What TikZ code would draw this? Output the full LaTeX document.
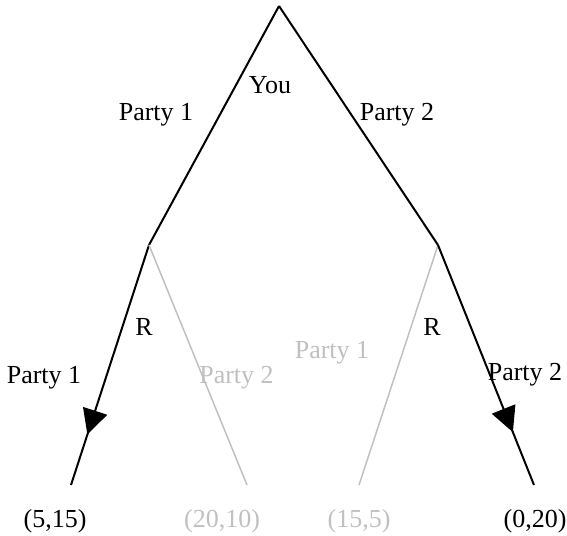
\documentclass[tikz,border=0pt]{standalone}
\usepackage{fontspec}
\setmainfont{Liberation Serif}
\usetikzlibrary{arrows.meta,decorations.markings}
\definecolor{greyedge}{RGB}{192,192,192}
\begin{document}
\begin{tikzpicture}[x=0.5pt,y=-0.5pt,
  lbl/.style={anchor=base,inner sep=0pt,font=\fontsize{13}{15}\selectfont},
  greylbl/.style={lbl,text=greyedge},
  chosen/.style={draw=black,line width=1pt},
  other/.style={draw=greyedge,line width=0.75pt},
  midarrow/.style={postaction={decorate,decoration={markings,mark=at position #1 with {\arrow{Triangle[length=12.5pt,width=12.5pt]}}}}}
]
\useasboundingbox (0,0) rectangle (567,535);

% tree points
\coordinate (root) at (279,6);
\coordinate (n1) at (149,245);
\coordinate (n2) at (438,245);
\coordinate (l1) at (71,485);
\coordinate (l2) at (247,485);
\coordinate (l3) at (359,485);
\coordinate (l4) at (534,485);

% edges
\draw[chosen] (root) -- (n1);
\draw[chosen] (root) -- (n2);
\draw[chosen,midarrow=0.79] (n1) -- (l1);
\draw[other] (n1) -- (l2);
\draw[other] (n2) -- (l3);
\draw[chosen,midarrow=0.78] (n2) -- (l4);

% labels
\node[lbl] (you) at (270,94) {You};
\node[lbl] (p1top) at (156,120) {Party 1};
\node[lbl] (p2top) at (397,120) {Party 2};
\node[lbl] (rleft) at (144,335) {R};
\node[lbl] (rright) at (432,335) {R};
\node[lbl] (p1left) at (44,383) {Party 1};
\node[greylbl] (p2grey) at (236.5,383) {Party 2};
\node[greylbl] (p1grey) at (332,358) {Party 1};
\node[lbl] (p2right) at (525,380) {Party 2};

% payoffs
\node[lbl] (v1) at (55,527) {(5,15)};
\node[greylbl] (v2) at (222,527) {(20,10)};
\node[greylbl] (v3) at (359,527) {(15,5)};
\node[lbl] (v4) at (535,527) {(0,20)};
\end{tikzpicture}
\end{document}
